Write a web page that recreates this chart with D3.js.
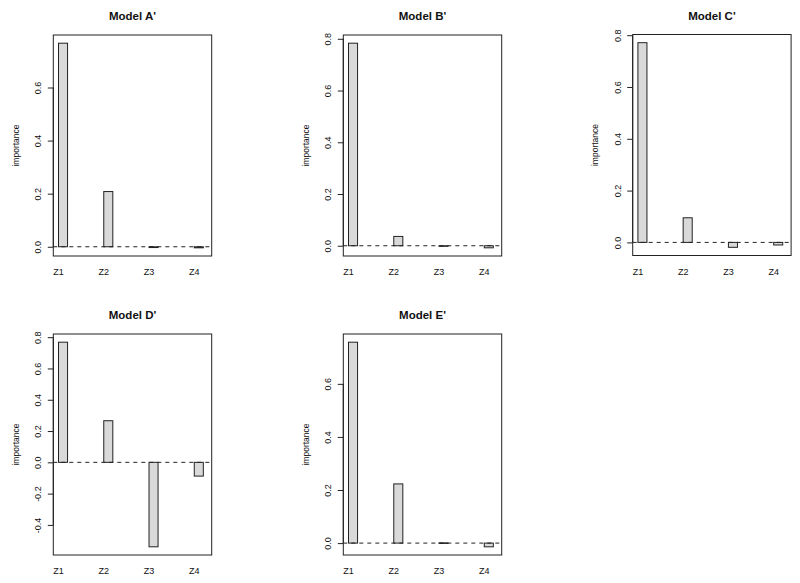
<!DOCTYPE html>
<html>
<head>
<meta charset="utf-8">
<script src="https://cdn.jsdelivr.net/npm/d3@7"></script>
<style>
  body { margin: 0; background: #fff; }
  svg text { font-family: "Liberation Sans", Arial, Helvetica, sans-serif; fill: #111; }
</style>
</head>
<body>
<div id="chart"></div>
<script>
// values
const categories = ['Z1', 'Z2', 'Z3', 'Z4'];
const titles = ["Model A'", "Model B'", "Model C'", "Model D'", "Model E'"];

const valuesA = [0.767, 0.208, -0.003, -0.004];
const valuesB = [0.783, 0.036, -0.002, -0.008];
const valuesC = [0.771, 0.095, -0.019, -0.010];
const valuesD = [0.768, 0.266, -0.540, -0.088];
const valuesE = [0.757, 0.223, 0.001, -0.014];

const ticksA = [0, 0.2, 0.4, 0.6];
const ticksB = [0, 0.2, 0.4, 0.6, 0.8];
const ticksC = [0, 0.2, 0.4, 0.6, 0.8];
const ticksD = [-0.4, -0.2, 0, 0.2, 0.4, 0.6, 0.8];
const ticksE = [0, 0.2, 0.4, 0.6];

const allValues = [valuesA, valuesB, valuesC, valuesD, valuesE];
const allTicks = [ticksA, ticksB, ticksC, ticksD, ticksE];

const width = 800,
  height = 583;

// plot boxes (left, top) -- box size is the same for all
const boxLefts = [53.3, 343.3, 632.7, 53.3, 343.3];
const boxTops = [35, 35, 34.5, 334, 334];
const boxW = 158.4,
  boxH = 221;

const svg = d3
  .select('#chart')
  .append('svg')
  .attr('width', width)
  .attr('height', height);

allValues.forEach((vals, k) => {
  const x0 = boxLefts[k],
    y0 = boxTops[k];

  // R style ylim: range incl. 0, padded by 4%
  const lo = Math.min(0, d3.min(vals)),
    hi = Math.max(0, d3.max(vals));
  const pad = (hi - lo) * 0.04;
  const y = d3
    .scaleLinear()
    .domain([lo - pad, hi + pad])
    .range([y0 + boxH, y0]);

  const x = d3
    .scaleLinear()
    .domain([0.885, 4.385])
    .range([x0, x0 + boxW]);

  const g = svg.append('g');

  // bars
  g.selectAll('rect.bar')
    .data(vals)
    .join('rect')
    .attr('class', 'bar')
    .attr('x', (d, i) => x(i + 1))
    .attr('width', x(1.2) - x(1))
    .attr('y', (d) => y(Math.max(0, d)))
    .attr('height', (d) => Math.max(0.6, Math.abs(y(d) - y(0))))
    .attr('fill', '#d9d9d9')
    .attr('stroke', '#222')
    .attr('stroke-width', 1);

  // zero line
  g.append('line')
    .attr('x1', x0)
    .attr('x2', x0 + boxW)
    .attr('y1', y(0))
    .attr('y2', y(0))
    .attr('stroke', '#222')
    .attr('stroke-dasharray', '4,4');

  // box
  g.append('rect')
    .attr('x', x0)
    .attr('y', y0)
    .attr('width', boxW)
    .attr('height', boxH)
    .attr('fill', 'none')
    .attr('stroke', '#222');

  // y axis
  const yAxis = d3
    .axisLeft(y)
    .tickValues(allTicks[k])
    .tickSize(5.5)
    .tickPadding(0)
    .tickFormat((d) => d.toFixed(1)); // plain hyphen like R
  const ax = g
    .append('g')
    .attr('transform', `translate(${x0},0)`)
    .call(yAxis);
  ax.select('.domain')
    .attr('d', `M0,${y(d3.min(allTicks[k]))}V${y(d3.max(allTicks[k]))}`)
    .attr('stroke', '#222');
  ax.selectAll('.tick line').attr('stroke', '#222');
  ax.selectAll('.tick text')
    .attr('x', null)
    .attr('dy', null)
    .attr('transform', 'translate(-15,0) rotate(-90)')
    .attr('text-anchor', 'middle')
    .attr('dominant-baseline', 'central')
    .style('font-size', '9px')
    .style('font-family', '"Liberation Sans", Arial, sans-serif')
    .attr('fill', '#111');

  // category labels
  g.selectAll('text.cat')
    .data(categories)
    .join('text')
    .attr('class', 'cat')
    .attr('x', (d, i) => x(i + 1))
    .attr('y', y0 + boxH + 19)
    .attr('text-anchor', 'middle')
    .style('font-size', '9px')
    .text((d) => d);

  // axis title
  g.append('text')
    .attr(
      'transform',
      `translate(${x0 - 37.6},${y0 + boxH / 2}) rotate(-90)`,
    )
    .attr('text-anchor', 'middle')
    .attr('dominant-baseline', 'central')
    .style('font-size', '8.5px')
    .text('importance');

  // title
  g.append('text')
    .attr('x', x0 + boxW / 2)
    .attr('y', y0 - 15)
    .attr('text-anchor', 'middle')
    .style('font-size', '11.5px')
    .style('font-weight', 'bold')
    .text(titles[k]);
});
</script>
</body>
</html>
